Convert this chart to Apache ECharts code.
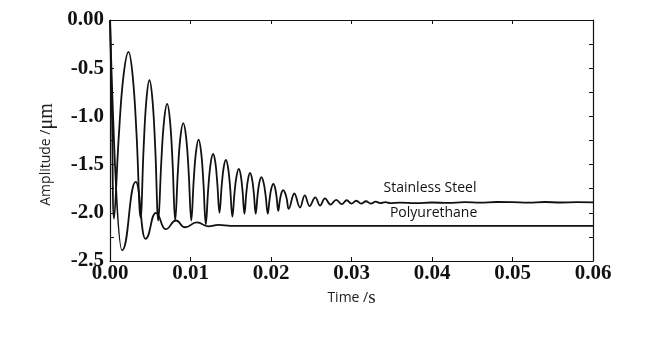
<!DOCTYPE html>
<html>
<head>
<meta charset="utf-8">
<script src="https://cdn.jsdelivr.net/npm/echarts@6/dist/echarts.min.js"></script>
<style>
html,body{margin:0;padding:0;background:#fff;}
#chart{width:650px;height:337px;}
</style>
</head>
<body>
<div id="chart"></div>
<script>
// Time (s) and amplitude (µm)
var steelTime = [
  0, 0.00025,
  0.0005, 0.0011, 0.00166, 0.0023, 0.00283, 0.0033,
  0.0038, 0.00417, 0.00451, 0.0049, 0.00529, 0.00563,
  0.0060, 0.00637, 0.00671, 0.0071, 0.00746, 0.00777,
  0.0081, 0.00843, 0.00874, 0.0091, 0.00946, 0.00977,
  0.0101, 0.0104, 0.01068, 0.0110, 0.01132, 0.0116,
  0.0119, 0.0122, 0.01248, 0.0128, 0.01309, 0.01333,
  0.0136, 0.01387, 0.01412, 0.0144, 0.01468, 0.01493,
  0.0152, 0.01547, 0.01572, 0.0160, 0.01625, 0.01647,
  0.0167, 0.01693, 0.01715, 0.0174, 0.01765, 0.01787,
  0.0181, 0.01833, 0.01855, 0.0188, 0.01908, 0.01933,
  0.0196, 0.01983, 0.02005, 0.0203, 0.02051, 0.0207,
  0.0209, 0.0211, 0.02129, 0.0215, 0.02175, 0.02197,
  0.0222, 0.0229, 0.0236, 0.0242, 0.0248, 0.0255, 0.0261, 0.0267, 0.0274, 0.0281, 0.0288,
  0.0294, 0.0300, 0.0306, 0.0312, 0.0318, 0.0324, 0.0330, 0.0336, 0.0342, 0.0348,
  0.036, 0.038, 0.040, 0.042, 0.044, 0.046, 0.048, 0.050, 0.052, 0.054, 0.056, 0.058, 0.060
];
var steelAmp = [
  0, -1.0,
  -2.06, -1.195, -0.59, -0.33, -0.59, -1.19,
  -2.05, -1.34, -0.84, -0.625, -0.843, -1.35,
  -2.08, -1.475, -1.05, -0.87, -1.05, -1.475,
  -2.08, -1.575, -1.22, -1.07, -1.22, -1.575,
  -2.08, -1.66, -1.37, -1.24, -1.37, -1.68,
  -2.12, -1.755, -1.50, -1.39, -1.48, -1.695,
  -2.0, -1.725, -1.53, -1.45, -1.54, -1.745,
  -2.04, -1.79, -1.62, -1.545, -1.615, -1.78,
  -2.01, -1.80, -1.65, -1.585, -1.65, -1.80,
  -2.01, -1.82, -1.687, -1.63, -1.687, -1.82,
  -2.01, -1.855, -1.746, -1.70, -1.742, -1.84,
  -1.98, -1.872, -1.797, -1.765, -1.794, -1.862,
  -1.96, -1.80, -1.945, -1.82, -1.93, -1.84, -1.925, -1.85, -1.915, -1.865, -1.91,
  -1.87, -1.905, -1.875, -1.905, -1.88, -1.905, -1.885, -1.90, -1.89, -1.90,
  -1.895, -1.90, -1.893, -1.898, -1.89, -1.895, -1.888, -1.89, -1.895, -1.888, -1.893, -1.89, -1.892
];
var puTime = [0, 0.0015, 0.0032, 0.0044, 0.0057, 0.0069, 0.0082, 0.0093, 0.0108, 0.0122, 0.0135, 0.015, 0.02, 0.03, 0.04, 0.05, 0.06];
var puAmp = [0, -2.39, -1.68, -2.27, -2.0, -2.17, -2.08, -2.15, -2.10, -2.14, -2.125, -2.135, -2.135, -2.135, -2.135, -2.135, -2.135];
var yTickLabels = {'0': '0.00', '-0.5': '-0.5', '-1': '-1.0', '-1.5': '-1.5', '-2': '-2.0', '-2.5': '-2.5'};
var seriesNames = ['Stainless Steel', 'Polyurethane'];
var labelSpots = [[0.03975, -1.747], [0.0402, -2.007]];

function zip(a, b) { return a.map(function (v, i) { return [v, b[i]]; }); }

var chart = echarts.init(document.getElementById('chart'), null, {renderer: 'canvas'});
var serif = "'Liberation Serif','Times New Roman',serif";
var sans = "'Open Sans','DejaVu Sans',sans-serif";
var lineCol = '#111';

var baseAxis = {
  axisLine: {show: true, onZero: false, lineStyle: {color: lineCol, width: 1.2}},
  axisTick: {show: true, inside: true, length: 4, lineStyle: {color: lineCol}},
  splitLine: {show: false}
};

function textMark(i) {
  return {
    symbol: 'circle', symbolSize: 1, silent: true,
    itemStyle: {color: 'rgba(0,0,0,0)'},
    data: [{coord: labelSpots[i], value: seriesNames[i]}],
    label: {show: true, position: 'inside', formatter: seriesNames[i],
      fontFamily: sans, fontSize: 14, color: '#111'}
  };
}

var option = {
  backgroundColor: '#fff',
  animation: false,
  grid: {left: 110, right: 57, top: 20, bottom: 76},
  xAxis: [
    Object.assign({}, baseAxis, {
      type: 'value', min: 0, max: 0.06, interval: 0.01, position: 'bottom',
      axisLabel: {color: lineCol, fontFamily: serif, fontSize: 21, fontWeight: 'bold', margin: 2,
        formatter: function (v) { return v.toFixed(2); }},
      name: '{a|Time /}{b|s}', nameLocation: 'middle', nameGap: 28,
      nameTextStyle: {rich: {
        a: {fontFamily: sans, fontSize: 14, color: '#222'},
        b: {fontFamily: serif, fontSize: 19, color: '#222'}
      }}
    }),
    Object.assign({}, baseAxis, {
      type: 'value', min: 0, max: 0.06, interval: 0.01, position: 'top',
      axisLabel: {show: false}
    })
  ],
  yAxis: [
    Object.assign({}, baseAxis, {
      type: 'value', min: -2.5, max: 0, interval: 0.5, position: 'left',
      minorTick: {show: true, splitNumber: 2, length: 4, lineStyle: {color: lineCol}},
      axisLabel: {color: lineCol, fontFamily: serif, fontSize: 21, fontWeight: 'bold', margin: 6,
        formatter: function (v) { return yTickLabels[String(v)] || v.toFixed(1); }},
      name: '{a|Amplitude /}{b|μm}', nameLocation: 'middle', nameGap: 52, nameRotate: 90,
      nameTextStyle: {padding: [0, 28, 0, 0], rich: {
        a: {fontFamily: sans, fontSize: 14, color: '#222'},
        b: {fontFamily: serif, fontSize: 20, color: '#222'}
      }}
    }),
    Object.assign({}, baseAxis, {
      type: 'value', min: -2.5, max: 0, interval: 0.5, position: 'right',
      minorTick: {show: true, splitNumber: 2, length: 4, lineStyle: {color: lineCol}},
      axisLabel: {show: false}
    })
  ],
  series: [
    {
      name: seriesNames[0], type: 'line', data: zip(steelTime, steelAmp),
      smooth: 0.4, symbol: 'none',
      lineStyle: {color: lineCol, width: 1.8},
      markPoint: textMark(0)
    },
    {
      name: seriesNames[1], type: 'line', data: zip(puTime, puAmp),
      smooth: 0.5, smoothMonotone: 'x', symbol: 'none',
      lineStyle: {color: lineCol, width: 1.8},
      markPoint: textMark(1)
    }
  ]
};
chart.setOption(option);
</script>
</body>
</html>
